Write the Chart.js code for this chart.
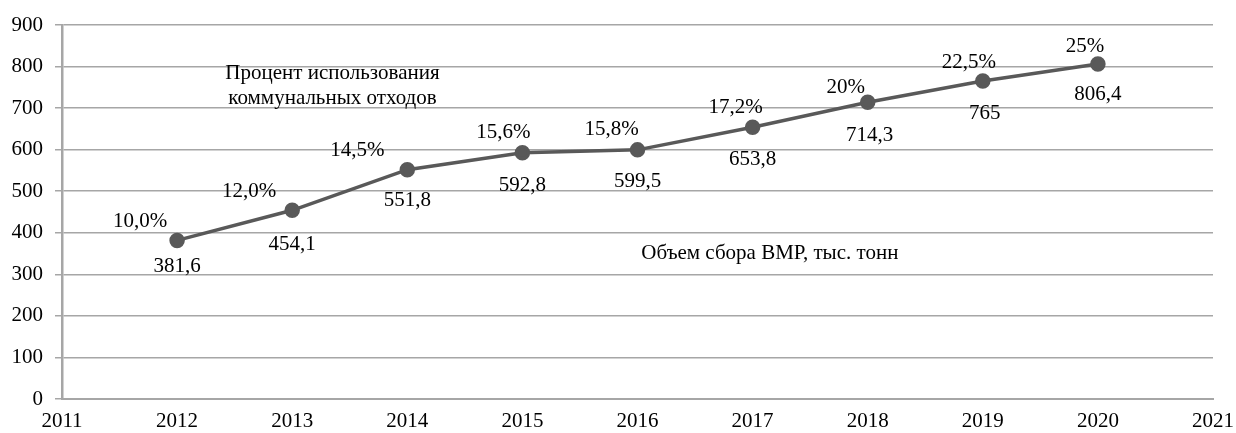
<!DOCTYPE html>
<html>
<head>
<meta charset="utf-8">
<script src="https://cdn.jsdelivr.net/npm/chart.js@4.4.0/dist/chart.umd.min.js"></script>
<style>
    html, body { margin: 0; padding: 0; background: #fff; }
    #wrap { width: 1236px; height: 433px; }
</style>
</head>
<body>
<div id="wrap"><canvas id="grafik" width="1236" height="433"></canvas></div>
<script>
const godine = [2012, 2013, 2014, 2015, 2016, 2017, 2018, 2019, 2020];
const obem = [381.6, 454.1, 551.8, 592.8, 599.5, 653.8, 714.3, 765, 806.4];
const obemTekst = ['381,6', '454,1', '551,8', '592,8', '599,5', '653,8', '714,3', '765', '806,4'];
const procenat = ['10,0%', '12,0%', '14,5%', '15,6%', '15,8%', '17,2%', '20%', '22,5%', '25%'];

// pomaci natpisa (px) od tocke
const pomakObem = [[0, 26], [0, 34], [0, 31], [0, 33], [0, 32], [0, 32], [2, 33], [2, 32], [0, 31]];
const pomakProc = [[-37, -19], [-43, -19], [-50, -19], [-19, -20], [-26, -20], [-17, -20], [-22, -15], [-14, -19], [-13, -17]];

const font = '21px "Liberation Serif", "Times New Roman", serif';

const natpisi = {
    id: 'natpisi',
    afterDatasetsDraw(chart) {
        const ctx = chart.ctx;
        const meta = chart.getDatasetMeta(0);
        const sx = chart.scales.x, sy = chart.scales.y;
        ctx.save();
        ctx.font = font;
        ctx.fillStyle = '#000';
        ctx.textAlign = 'center';
        ctx.textBaseline = 'middle';
        meta.data.forEach((p, i) => {
            ctx.fillText(obemTekst[i], p.x + pomakObem[i][0], p.y + pomakObem[i][1]);
            ctx.fillText(procenat[i], p.x + pomakProc[i][0], p.y + pomakProc[i][1]);
        });
        // opisi serija
        ctx.fillText('Процент использования', sx.getPixelForValue(2013.35), sy.getPixelForValue(784));
        ctx.fillText('коммунальных отходов', sx.getPixelForValue(2013.35), sy.getPixelForValue(724));
        ctx.fillText('Объем сбора ВМР, тыс. тонн', sx.getPixelForValue(2017.15), sy.getPixelForValue(349));
        ctx.restore();
    }
};

new Chart(document.getElementById('grafik').getContext('2d'), {
    type: 'line',
    data: {
        datasets: [{
            data: godine.map((g, i) => ({ x: g, y: obem[i] })),
            borderColor: '#595959',
            backgroundColor: '#595959',
            borderWidth: 3.5,
            pointRadius: 6,
            pointHoverRadius: 6,
            pointBackgroundColor: '#595959',
            pointBorderColor: '#595959',
            tension: 0
        }]
    },
    options: {
        responsive: false,
        animation: false,
        layout: { padding: { top: 25, right: 23, left: 0, bottom: 0 } },
        plugins: { legend: { display: false }, tooltip: { enabled: false } },
        scales: {
            x: {
                type: 'linear',
                min: 2011,
                max: 2021,
                ticks: { stepSize: 1, color: '#000', font: { family: '"Liberation Serif", serif', size: 21 }, padding: 10, maxRotation: 0, callback: v => String(v) },
                grid: { display: false, drawTicks: false },
                border: { display: true, color: '#a6a6a6', width: 2 },
                afterFit: s => { s.height = 34; s.paddingLeft = 0; s.paddingRight = 0; }
            },
            y: {
                min: 0,
                max: 900,
                ticks: { stepSize: 100, color: '#000', font: { family: '"Liberation Serif", serif', size: 21 }, padding: 12 },
                grid: { color: '#a6a6a6', lineWidth: 1.5, tickLength: 7, drawTicks: true },
                border: { display: true, color: '#a6a6a6', width: 2.5 },
                afterFit: s => { s.width = 62; }
            }
        }
    },
    plugins: [natpisi]
});
</script>
</body>
</html>
